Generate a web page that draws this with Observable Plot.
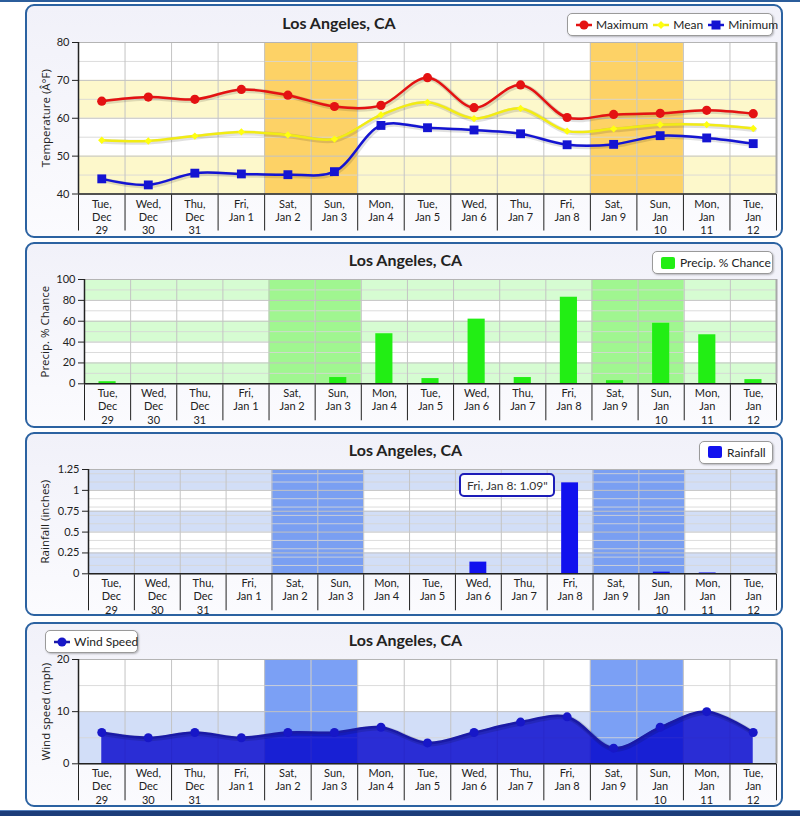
<!DOCTYPE html>
<html><head><meta charset="utf-8">
<script src="https://cdn.jsdelivr.net/npm/d3@7"></script>
<script src="https://cdn.jsdelivr.net/npm/@observablehq/plot@0.6"></script>
<style>
body{margin:0;width:800px;height:816px;position:relative;background:#fff;font-family:Lato,sans-serif;overflow:hidden}
.topline{position:absolute;left:0;top:0;width:800px;height:2px;background:#2b5d9b}
.bottomband{position:absolute;left:0;top:810px;width:800px;height:6px;background:linear-gradient(#5580bd 0,#5580bd 1.5px,#1c3d7a 1.5px)}
.panel{position:absolute;left:25px;width:758px;box-sizing:border-box;border:2.5px solid #2b62a1;border-radius:9px;background:linear-gradient(#f1f1f9,#fbfbfe);z-index:0}
svg.chart{position:absolute;left:0;z-index:1}
.title{position:absolute;width:300px;text-align:center;font-weight:bold;font-size:16px;line-height:19px;color:#222;z-index:2}
.legend{position:absolute;height:23px;box-sizing:border-box;border:1px solid #9a9a9a;border-radius:5px;background:#fff;box-shadow:1px 1px 2px rgba(0,0,0,.25);display:flex;align-items:center;font-size:12px;color:#222;padding-left:8px;white-space:nowrap;z-index:2}
.legend .item{display:flex;align-items:center;margin-right:5px}
.legend svg{margin-right:4px}
.swatch{width:14px;height:12px;border-radius:2px;margin-right:5px}
.tip{position:absolute;width:96px;height:24px;box-sizing:border-box;border:2px solid #1c1cb8;border-radius:5px;background:rgba(255,255,255,.95);font-size:12px;color:#333;display:flex;align-items:center;justify-content:center;z-index:3;white-space:nowrap}
</style></head>
<body>
<div class="topline"></div>
<div class="bottomband"></div>
<div class="panel" style="top:4px;height:234px"></div>
<div class="panel" style="top:242px;height:186px"></div>
<div class="panel" style="top:432px;height:184px"></div>
<div class="panel" style="top:622px;height:185px"></div>
<script>
// ---------- data ----------
const dayLabels = ["Tue,\nDec\n29","Wed,\nDec\n30","Thu,\nDec\n31","Fri,\nJan 1","Sat,\nJan 2","Sun,\nJan 3","Mon,\nJan 4","Tue,\nJan 5","Wed,\nJan 6","Thu,\nJan 7","Fri,\nJan 8","Sat,\nJan 9","Sun,\nJan\n10","Mon,\nJan\n11","Tue,\nJan\n12"];
const maxTemp  = [64.5,65.6,65.0,67.6,66.1,63.1,63.4,70.7,62.8,68.8,60.2,61.0,61.3,62.1,61.2];
const meanTemp = [54.2,54.0,55.3,56.4,55.6,54.5,60.9,64.2,59.9,62.6,56.6,57.2,58.3,58.3,57.3];
const minTemp  = [44.0,42.4,45.5,45.3,45.1,45.9,58.1,57.5,56.9,55.9,53.0,53.1,55.4,54.8,53.3];
const precipChance = [2,0,0,0,0,6,48,5,62,6,83,3,58,47,4];
const rainfall = [0,0,0,0,0,0,0,0,0.14,0,1.09,0,0.02,0.01,0];
const windSpeed = [6,5,6,5,6,6,7,4,6,8,9,3,7,10,6];
const tempTicks = [40,50,60,70,80];
const tempMinor = [45,55,65,75];
const precipTicks = [0,20,40,60,80,100];
const precipMinor = [10,30,50,70,90];
const rainTicks = [0,0.25,0.5,0.75,1,1.25];
const rainMinor = [0.1,0.2,0.3,0.4,0.6,0.7,0.8,0.9,1.1,1.2];
const windTicks = [0,10,20];
const windMinor = [5,15];
const chartTitle = "Los Angeles, CA";
const seriesNames = ["Maximum","Mean","Minimum","Precip. % Chance","Rainfall","Wind Speed"];
const axisTitles = ["Temperature (Â°F)","Precip. % Chance","Rainfall (inches)","Wind speed (mph)"];

// ---------- helpers ----------
const n = dayLabels.length;
const idx = d3.range(n);
const edges = d3.range(n + 1);
const weekendIdx = idx.filter(i => /^(Sat|Sun)/.test(dayLabels[i]));
const center = i => i + 0.5;

function panel({top, height, plotTop, plotBottom, plotLeft, ticks, minor, bandFill, weekendFill, yLabel, labelX, labelDy, marks}) {
  const dom = [ticks[0], ticks[ticks.length - 1]];
  const bands = d3.pairs(ticks).filter((_, k) => k % 2 === 0);
  const svg = Plot.plot({
    width: 800, height,
    marginTop: plotTop - top, marginBottom: top + height - plotBottom,
    marginLeft: plotLeft, marginRight: 24,
    style: {fontFamily: "Lato, sans-serif", fontSize: "11px", color: "#222", background: "transparent", overflow: "visible"},
    x: {domain: [0, n], ticks: edges, tickSize: 37, tickFormat: () => "", label: null},
    y: {domain: dom, ticks, tickSize: 6, tickPadding: 3, tickFormat: d => `${d}`, label: null},
    marks: [
      Plot.rect([dom], {x1: 0, x2: n, y1: d => d[0], y2: d => d[1], fill: "#fff"}),
      Plot.rect(bands, {x1: 0, x2: n, y1: d => d[0], y2: d => d[1], fill: bandFill}),
      Plot.rect(weekendIdx, {x1: i => i, x2: i => i + 1, y1: dom[0], y2: dom[1], fill: weekendFill}),
      Plot.ruleY(minor, {stroke: "#d6d6d6", strokeOpacity: 0.85}),
      Plot.ruleY(ticks, {stroke: "#c2c2c2"}),
      Plot.ruleX(edges, {stroke: "#c4c4c4"}),
      ...marks,
      Plot.ruleY([dom[1]], {stroke: "#b4b4b4"}),
      Plot.ruleX([n], {stroke: "#a8a8a8", strokeWidth: 2}),
      Plot.ruleX([0], {stroke: "#222", strokeWidth: 1.5}),
      Plot.ruleY([dom[0]], {stroke: "#222", strokeWidth: 1.5}),
      Plot.text(idx, {x: center, frameAnchor: "bottom", lineAnchor: "top", dy: labelDy, text: i => dayLabels[i], lineHeight: 1.2, fontSize: 11, fill: "#222"}),
      Plot.text([yLabel], {frameAnchor: "left", textAnchor: "middle", lineAnchor: "middle", rotate: -90, dx: labelX - plotLeft, text: d => d, fontSize: 11.5, fontFamily: "'Open Sans', sans-serif", fill: "#222"})
    ]
  });
  svg.classList.add("chart");
  svg.style.top = top + "px";
  document.body.appendChild(svg);
  return svg;
}

function spline(vals, color, width) {
  return [
    Plot.line(idx, {x: center, y: i => vals[i], curve: "catmull-rom", stroke: "#000", strokeOpacity: 0.12, strokeWidth: width + 2.5, dx: 1, dy: 1}),
    Plot.line(idx, {x: center, y: i => vals[i], curve: "catmull-rom", stroke: color, strokeWidth: width})
  ];
}

const RED = "#e41212", YEL = "#f2ec14", BLU = "#1414d2";

// ---------- panel 1: temperature ----------
panel({top: 4, height: 234, plotTop: 42, plotBottom: 193.5, plotLeft: 78,
  ticks: tempTicks, minor: tempMinor, bandFill: "#fdf8cb", weekendFill: "#fdd266",
  yLabel: axisTitles[0], labelX: 46, labelDy: 4.5,
  marks: [
    ...spline(maxTemp, RED, 2.5),
    ...spline(meanTemp, YEL, 2.5),
    ...spline(minTemp, BLU, 2.5),
    Plot.dot(idx, {x: center, y: i => maxTemp[i], r: 4.6, fill: RED, symbol: "circle"}),
    Plot.dot(idx, {x: center, y: i => meanTemp[i], r: 3.3, fill: "#ffff10", stroke: "none", symbol: "diamond2"}),
    Plot.dot(idx, {x: center, y: i => minTemp[i], r: 5, fill: BLU, stroke: "none", symbol: "square"})
  ]});

// ---------- panel 2: precip chance ----------
panel({top: 242, height: 186, plotTop: 279, plotBottom: 383.3, plotLeft: 84,
  ticks: precipTicks, minor: precipMinor, bandFill: "#d6fcd2", weekendFill: "#a0f690",
  yLabel: axisTitles[1], labelX: 45, labelDy: 4,
  marks: [
    Plot.rect(idx, {x1: i => i, x2: i => i + 1, y1: 0, y2: i => precipChance[i], insetLeft: 14.5, insetRight: 14.5, fill: "#22ee14"})
  ]});

// ---------- panel 3: rainfall ----------
const p3 = panel({top: 432, height: 184, plotTop: 469, plotBottom: 573.3, plotLeft: 88,
  ticks: rainTicks, minor: rainMinor, bandFill: "#d2def7", weekendFill: "#7a9ff2",
  yLabel: axisTitles[2], labelX: 45, labelDy: 4,
  marks: [
    Plot.rect(idx, {x1: i => i, x2: i => i + 1, y1: 0, y2: i => rainfall[i], insetLeft: 14.5, insetRight: 14.5, fill: "#1111ee"})
  ]});

// ---------- panel 4: wind ----------
panel({top: 622, height: 185, plotTop: 659, plotBottom: 763.3, plotLeft: 78,
  ticks: windTicks, minor: windMinor, bandFill: "#d2def8", weekendFill: "#7ba0f5",
  yLabel: axisTitles[3], labelX: 46, labelDy: 4,
  marks: [
    Plot.area(idx, {x1: center, y1: 0, y2: i => windSpeed[i], curve: "catmull-rom", fill: "#0000cc", fillOpacity: 0.8}),
    Plot.line(idx, {x: center, y: i => windSpeed[i], curve: "catmull-rom", stroke: "#000", strokeOpacity: 0.12, strokeWidth: 5, dx: 1, dy: 1}),
    Plot.line(idx, {x: center, y: i => windSpeed[i], curve: "catmull-rom", stroke: "#1a1aa6", strokeWidth: 2.5}),
    Plot.dot(idx, {x: center, y: i => windSpeed[i], r: 4.5, fill: "#1717c8", stroke: "none"})
  ]});

// ---------- titles ----------
[[339, 13], [405.5, 249.7], [405.5, 439.7], [405.5, 629.7]].forEach(([cx, t]) => {
  const d = document.createElement("div");
  d.className = "title"; d.textContent = chartTitle;
  d.style.left = (cx - 150) + "px"; d.style.top = t + "px";
  document.body.appendChild(d);
});

// ---------- legends ----------
function marker(color, shape, lineColor) {
  let m = "";
  if (shape === "circle") m = `<circle cx="8" cy="6" r="4.5" fill="${color}"/>`;
  if (shape === "diamond") m = `<polygon points="8,2 12,6 8,10 4,6" fill="${color}"/>`;
  if (shape === "square") m = `<rect x="3.5" y="1.5" width="9" height="9" fill="${color}"/>`;
  return `<svg width="16" height="12"><line x1="0" x2="16" y1="6" y2="6" stroke="${lineColor || color}" stroke-width="2.5"/>${m}</svg>`;
}
function legend(left, top, width, html) {
  const d = document.createElement("div");
  d.className = "legend";
  d.style.left = left + "px"; d.style.top = top + "px"; d.style.width = width + "px";
  d.innerHTML = html;
  document.body.appendChild(d);
}
legend(567, 13, 206,
  `<span class="item">${marker(RED, "circle")}${seriesNames[0]}</span>` +
  `<span class="item">${marker("#ffff10", "diamond", YEL)}${seriesNames[1]}</span>` +
  `<span class="item">${marker(BLU, "square")}${seriesNames[2]}</span>`);
legend(652, 251, 121, `<span class="swatch" style="background:#22ee14"></span>${seriesNames[3]}`);
legend(699, 440.5, 74, `<span class="swatch" style="background:#1111ee"></span>${seriesNames[4]}`);
legend(45, 630, 93, `<span class="item">${marker("#1717c8", "circle", "#1a1aa6")}${seriesNames[5]}</span>`);

// ---------- tooltip on the wettest day ----------
const iTip = rainfall.indexOf(d3.max(rainfall));
const tx = p3.scale("x").apply(center(iTip));
const ty = p3.scale("y").apply(rainfall[iTip]) + 432;
const tip = document.createElement("div");
tip.className = "tip";
tip.textContent = `${dayLabels[iTip].replace(/\n/g, " ")}: ${rainfall[iTip]}"`;
tip.style.left = (tx - 14.3 - 96) + "px";
tip.style.top = (ty - 9) + "px";
document.body.appendChild(tip);
</script>
</body></html>
